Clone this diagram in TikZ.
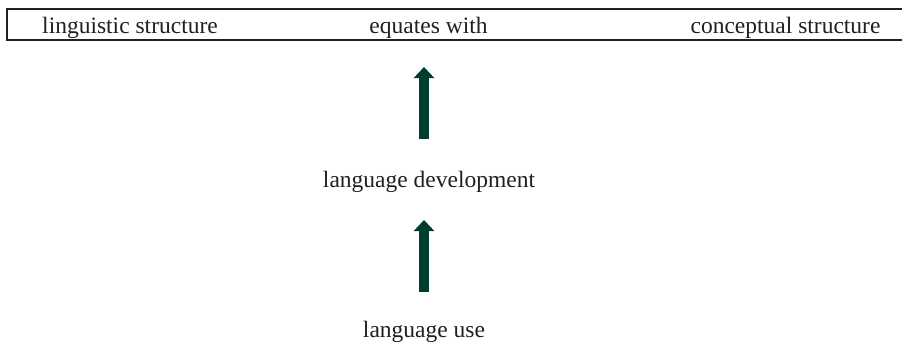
\documentclass[tikz,border=0pt]{standalone}
\usepackage{fontspec}
\setmainfont{Liberation Serif}
\usetikzlibrary{arrows.meta}
\definecolor{ink}{HTML}{231F20}
\definecolor{arrowgreen}{HTML}{003D2E}
\tikzset{
  label text/.style={font=\fontsize{23.5}{28}\selectfont, text=ink, inner sep=0pt, anchor=base},
  frame line/.style={draw=ink, line width=1.1pt},
  bigarrow/.style={draw=arrowgreen, line width=10pt,
    -{Triangle[width=20pt, length=11pt]}, arrowgreen}
}
\begin{document}
\begin{tikzpicture}[x=1pt, y=-1pt]
  \useasboundingbox (0,0) rectangle (902,343);

  % open-ended header frame
  \draw[frame line] (902,9) -- (7,9) -- (7,40) -- (902,40);

  % header row
  \node[label text] (ling) at (130,33) {linguistic structure};
  \node[label text] (eq)   at (428.5,33) {equates with};
  \node[label text] (conc) at (785.5,33) {conceptual structure};

  % lower labels
  \node[label text] (dev) at (429,187) {language development};
  \node[label text] (use) at (424,337) {language use};

  % arrow end points
  \coordinate (a1from) at (424,139);
  \coordinate (a1to)   at (424,67);
  \coordinate (a2from) at (424,292);
  \coordinate (a2to)   at (424,220);

  \draw[bigarrow] (a2from) -- (a2to);
  \draw[bigarrow] (a1from) -- (a1to);
\end{tikzpicture}
\end{document}
